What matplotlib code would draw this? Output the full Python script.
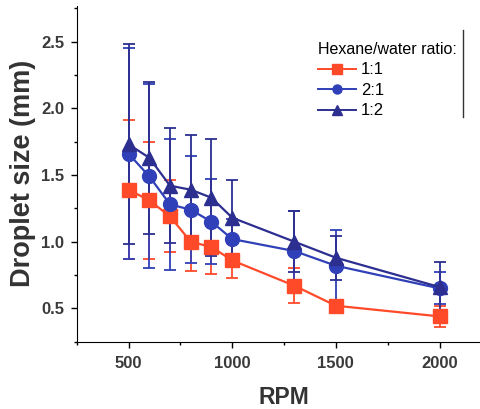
import matplotlib
matplotlib.use("Agg")
import matplotlib.pyplot as plt
from matplotlib.lines import Line2D
from matplotlib.ticker import MultipleLocator

plt.rcParams['font.family'] = ['Liberation Sans', 'DejaVu Sans']

rpm = [500, 600, 700, 800, 900, 1000, 1300, 1500, 2000]

# hexane/water 1:1
size_11 = [1.39, 1.31, 1.19, 1.00, 0.96, 0.86, 0.67, 0.52, 0.44]
err_11 = [0.52, 0.44, 0.27, 0.22, 0.20, 0.13, 0.13, 0.03, 0.08]
# hexane/water 2:1
size_21 = [1.66, 1.49, 1.28, 1.24, 1.15, 1.02, 0.93, 0.82, 0.65]
err_21 = [0.79, 0.69, 0.49, 0.40, 0.32, 0.15, 0.30, 0.27, 0.12]
# hexane/water 1:2
size_12 = [1.73, 1.63, 1.42, 1.39, 1.33, 1.18, 1.00, 0.88, 0.66]
err_12 = [0.75, 0.57, 0.43, 0.41, 0.44, 0.28, 0.23, 0.165, 0.19]

series = [
    ("1:1", size_11, err_11, "#ff4a2a", "s"),
    ("2:1", size_21, err_21, "#3040b8", "o"),
    ("1:2", size_12, err_12, "#2c2f90", "^"),
]

fig = plt.figure(figsize=(4.81, 4.09), dpi=100)
ax = fig.add_axes([0.1595, 0.1645, 0.862, 0.8215])

proxies = []
for label, y, e, c, m in series:
    ax.errorbar(rpm, y, yerr=e, color=c, marker=m, markersize=10,
                linewidth=1.6, elinewidth=1.3, capsize=4.5, capthick=1.3)
    proxies.append(Line2D([], [], color=c, marker=m, markersize=6.5,
                          linewidth=1.4, label=label))

ax.set_xlim(250, 2250)
ax.set_ylim(0.25, 2.77)
ax.set_xticks([500, 1000, 1500, 2000])
ax.xaxis.set_minor_locator(MultipleLocator(250))
ax.yaxis.set_major_locator(MultipleLocator(0.5))
ax.yaxis.set_minor_locator(MultipleLocator(0.25))
ax.tick_params(which='major', length=4, width=1, labelsize=12, pad=5)
ax.tick_params(axis='x', which='major', pad=6.5)
ax.tick_params(which='minor', length=2.5, width=1)
for lab in ax.get_xticklabels() + ax.get_yticklabels():
    lab.set_fontweight('bold')
    lab.set_color('#3a3a3a')

ax.spines['top'].set_visible(False)
ax.spines['right'].set_visible(False)
ax.set_xlabel("RPM", fontsize=16.5, fontweight='bold', color='#333333', labelpad=10.5)
ax.set_ylabel("Droplet size (mm)", fontsize=19.5, fontweight='bold', color='#333333', labelpad=4)

ax.legend(handles=proxies, title="Hexane/water ratio:", frameon=False,
          loc='upper left', bbox_to_anchor=(0.636, 0.926),
          bbox_transform=fig.transFigure, fontsize=12, title_fontsize=11.5,
          handlelength=2.3, handletextpad=0.3, labelspacing=0.33,
          borderpad=0.2, alignment='left')

# right edge of the legend frame that remains in the cropped figure
fig.add_artist(Line2D([0.963, 0.963], [1 - 30 / 409, 1 - 117 / 409],
                      transform=fig.transFigure, color='#333333', linewidth=1))

fig.savefig("out.png", dpi=100)
